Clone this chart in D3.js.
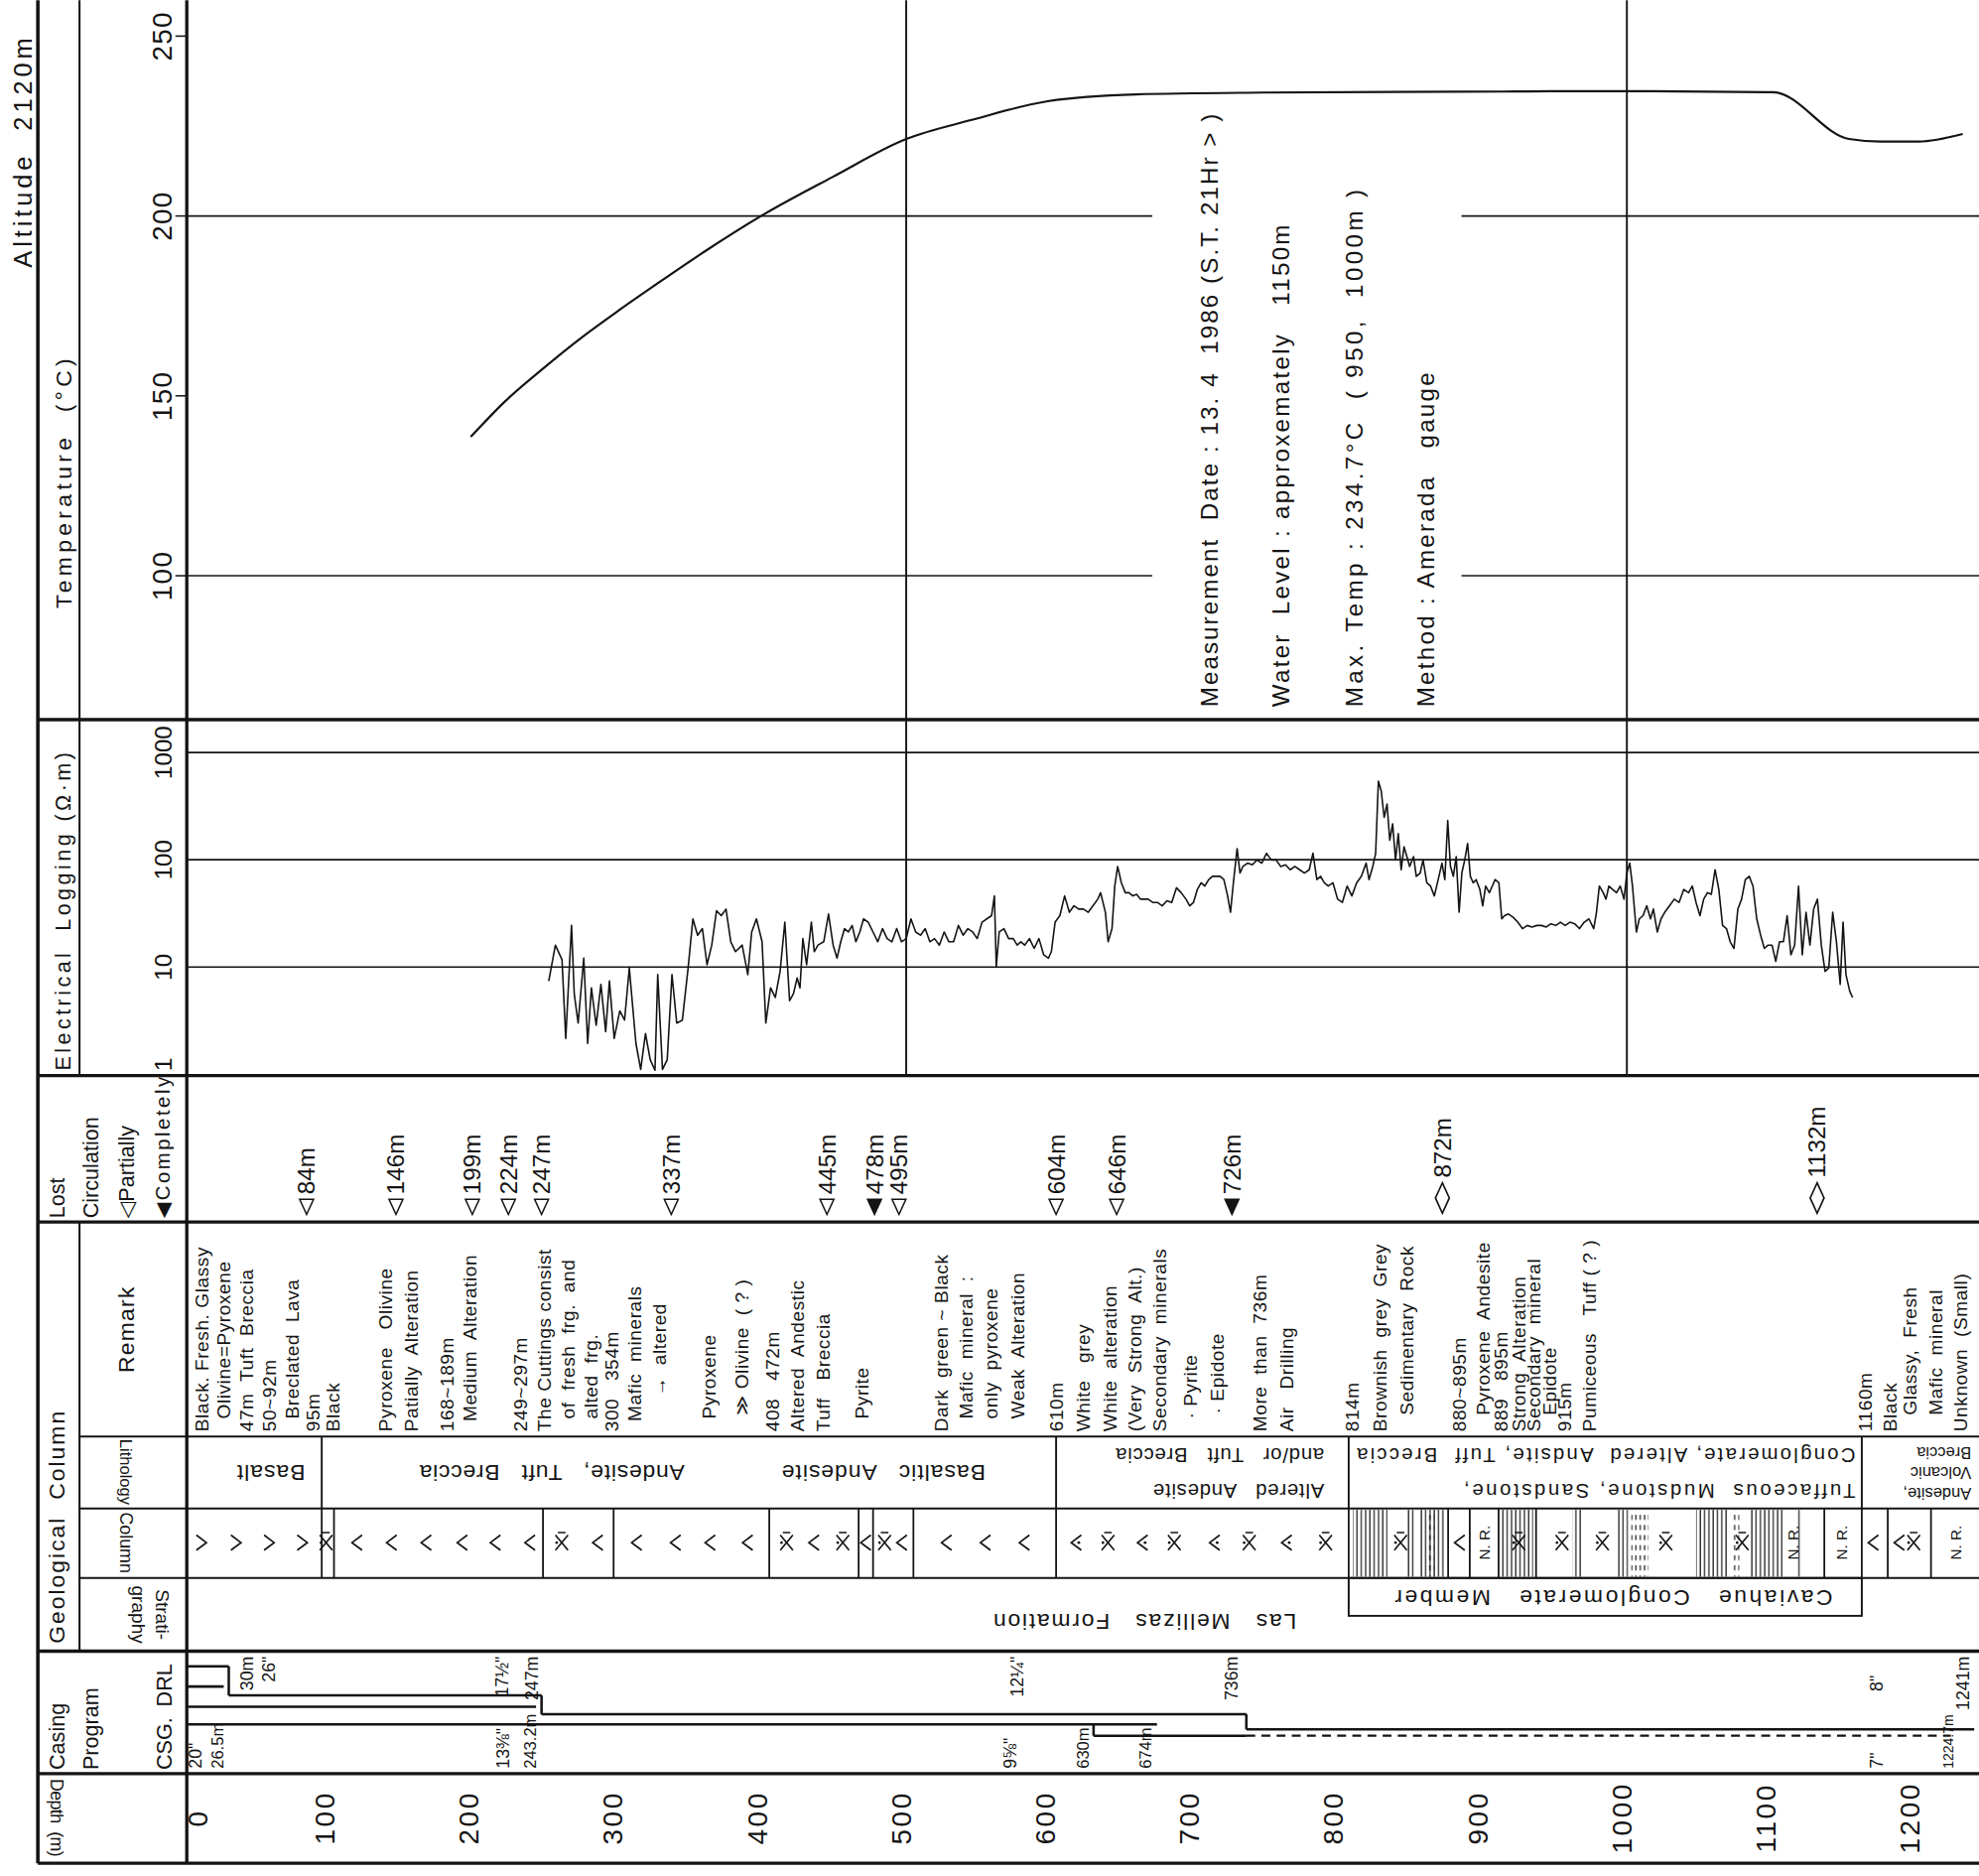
<!DOCTYPE html>
<html>
<head>
<meta charset="utf-8">
<title>Well log – temperature, resistivity and geology</title>
<script src="https://cdn.jsdelivr.net/npm/d3@7/dist/d3.min.js"></script>
<style>
  html, body { margin: 0; padding: 0; background: #fff; }
  svg { display: block; }
  text { font-family: "Liberation Sans", "DejaVu Sans", Arial, sans-serif; fill: #141414; white-space: pre; }
</style>
</head>
<body>
<svg id="chart" width="1994" height="1890" viewBox="0 0 1568 1486"></svg>
<script>
// ---------- data ----------
const depthTicks = [0, 100, 200, 300, 400, 500, 600, 700, 800, 900, 1000, 1100, 1200];
const depthGrid = [500, 1000];
const tempTicks = [100, 150, 200, 250];
const tempGrid = [100, 200];
const resTicks = [1, 10, 100, 1000];

// static temperature profile (depth m, °C)
const tempDepth = [197.9, 221.5, 247.8, 274.1, 300.4, 326.6, 361.6, 401, 449.2, 500, 545.5, 598.1, 659.4, 746.9, 834.5, 922.1, 950, 1000, 1101.6, 1154.1, 1176, 1202.3, 1233];
const tempValue = [138.6, 148.4, 157.5, 166, 173.7, 181, 190.5, 200.4, 210.9, 221.4, 226.7, 231.9, 233.8, 234.3, 234.5, 234.6, 234.7, 234.7, 234.4, 221.4, 220.7, 220.7, 222.8];

// electrical logging (depth m, resistivity ohm-m)
const logDepth = [
  252.0,256.6,261.2,263.8,267.8,269.7,272.4,276.3,279.0,281.6,
  284.9,288.2,291.5,294.1,297.4,301.3,304.6,307.9,310.5,312.5,
  315.8,319.1,322.4,325.7,327.6,330.9,334.2,337.5,340.8,344.7,
  348.7,352.0,355.3,358.6,361.8,365.1,368.4,371.7,375.0,378.3,
  381.6,386.2,390.1,392.8,396.1,400.0,402.6,405.9,409.2,412.5,
  415.8,419.1,421.7,424.3,426.3,428.3,430.9,434.2,436.2,438.8,
  442.8,446.1,449.3,452.0,454.6,457.2,459.9,462.5,465.1,467.8,
  470.4,473.7,477.0,480.3,483.6,486.8,490.1,493.4,496.7,500.0,
  503.3,506.6,509.9,513.2,516.4,519.7,523.0,526.3,529.6,532.9,
  536.2,539.5,542.8,546.1,549.3,552.6,555.9,559.2,561.2,562.5,
  564.5,567.8,571.1,574.3,577.0,579.6,582.2,585.5,588.8,592.1,
  595.4,598.7,600.7,603.3,606.6,609.9,613.2,616.4,619.7,623.0,
  626.3,629.6,632.9,634.9,638.2,640.1,642.8,644.7,646.7,649.3,
  652.0,654.6,657.2,659.9,662.5,665.1,667.8,671.1,674.3,677.6,
  680.9,684.2,687.5,690.8,694.1,696.7,699.3,702.0,704.6,707.2,
  709.9,712.5,715.1,717.8,720.4,723.0,725.0,727.0,729.6,731.6,
  733.6,736.8,740.1,743.4,746.7,750.0,753.3,756.6,759.9,763.2,
  766.4,769.7,773.0,776.3,779.6,782.2,784.9,787.5,790.1,792.8,
  796.1,799.3,802.6,805.9,809.2,812.5,815.8,819.1,821.1,823.7,
  825.7,827.6,829.6,831.6,833.6,835.5,837.5,839.5,841.4,843.4,
  845.4,847.4,849.3,852.0,853.9,856.6,858.6,861.2,863.8,866.4,
  869.1,871.7,873.7,875.7,877.6,879.6,881.6,883.6,885.5,887.5,
  889.5,891.4,893.4,895.4,898.0,900.0,902.0,904.6,906.6,908.6,
  911.2,913.2,915.1,917.8,921.1,924.3,927.6,930.9,934.2,937.5,
  940.8,944.1,947.4,950.7,953.9,957.2,960.5,963.8,967.1,970.4,
  973.7,977.0,978.9,980.9,983.6,985.5,987.5,990.1,992.8,995.4,
  998.0,1000.0,1002.0,1003.9,1006.6,1008.6,1011.2,1013.8,1016.4,1018.4,
  1021.1,1023.7,1026.3,1029.6,1032.9,1036.2,1039.5,1042.8,1045.4,1048.0,
  1050.7,1053.3,1055.9,1058.6,1061.2,1063.8,1066.4,1069.1,1071.7,1074.3,
  1077.0,1079.6,1082.2,1084.9,1087.5,1090.1,1092.8,1095.4,1098.0,1100.7,
  1103.3,1105.9,1108.6,1111.2,1113.8,1116.4,1119.1,1121.7,1124.3,1127.0,
  1129.6,1132.2,1134.9,1137.5,1140.1,1142.8,1145.4,1148.0,1150.0,1152.0,
  1154.6,1156.6];
const logRes = [
  7.4,16,11.7,2.16,24.4,5.6,3.0,12.1,1.94,6.4,
  2.86,6.9,2.5,7.4,2.16,3.9,3.2,9.8,3.9,1.94,
  1.11,2.4,1.37,1.09,8.5,1.11,1.37,8.5,3.0,3.2,
  9.8,28.1,19.8,22.8,10.5,16,33.5,30.1,34.7,17.2,
  13.9,16,8.5,21.2,28.1,17.2,3.0,6.4,5.2,9.1,
  26.2,4.85,5.6,7.9,6.4,18.4,10.5,26.2,13.9,16,
  17.2,31.2,16,12.1,17.2,22.8,21.2,24.4,17.2,21.2,
  28.1,26.2,21.2,17.2,22.8,18.4,17.2,22.8,17.2,18.4,
  28.1,21.2,19.8,22.8,17.2,18.4,16,21.2,17.2,17.2,
  24.4,19.8,22.8,21.2,18.4,26.2,28.1,30.1,46,10.1,
  21.2,22.8,18.4,18.4,16,17.2,16,18.4,14.9,18.4,
  13.0,12.1,13.9,26.2,30.1,46,32.4,37.2,34.7,34.7,
  32.4,37.2,42.9,49.3,32.4,17.2,22.8,56.8,86.5,60.9,
  49.3,49.3,46,47.6,42.9,42.9,42.9,40,40,37.2,
  41.4,40,54.8,49.3,42.9,37.2,40,52.9,60.9,56.8,
  65.3,70.1,70.1,70.1,65.3,46,32.4,60.9,127,75.2,
  86.5,92.9,89.8,99.6,92.9,115,99.6,99.6,86.5,89.8,
  80.7,86.5,80.7,75.2,80.7,115,65.3,70.1,60.9,56.8,
  60.9,42.9,40,56.8,46,60.9,70.1,92.9,65.3,86.5,
  115,539,436,248,330,152,216,99.6,175,80.7,
  132,107,86.5,107,70.1,75.2,99.6,60.9,56.8,46,
  65.3,92.9,65.3,232,86.5,70.1,107,32.4,75.2,99.6,
  142,70.1,60.9,65.3,52.9,37.2,56.8,49.3,56.8,65.3,
  60.9,28.1,30.1,31.2,29.1,26.2,22.8,24.4,23.6,24.4,
  24.4,23.6,25.3,24.4,26.2,24.4,26.2,25.3,22.8,26.2,
  28.1,22.8,32.4,56.8,49.3,42.9,56.8,52.9,49.3,56.8,
  42.9,75.2,92.9,56.8,21.2,28.1,30.1,37.2,28.1,34.7,
  21.2,28.1,32.4,37.2,42.9,40,52.9,49.3,56.8,40,
  30.1,42.9,49.3,47.6,80.7,52.9,24.4,22.8,17.2,14.9,
  34.7,42.9,65.3,70.1,56.8,28.1,19.8,14.9,16,16,
  11.3,17.2,17.2,30.1,13.0,16,56.8,13.0,32.4,16,
  34.7,42.9,16,9.1,9.8,32.4,17.2,6.9,26.2,8.5,
  5.98,5.2];

const measurementNotes = [
  "Measurement  Date : 13. 4  1986 (S.T. 21Hr > )",
  "Water  Level : approxemately   1150m",
  "Max. Temp : 234.7°C  ( 950,  1000m )",
  "Method : Amerada   gauge"
];

// lost circulation
const lossDepth = [84, 146, 199, 224, 247, 337, 445, 478, 495, 604, 646, 726, 872, 1132];
const lossKind = ["partial", "partial", "partial", "partial", "partial", "partial", "partial", "complete", "partial", "partial", "partial", "complete", "diamond", "diamond"];

// remarks: depth where each note sits, note text
const remarkDepth = [11.4, 26.3, 42.0, 57.8, 73.6, 88.4, 102.5, 138.4, 156.7, 181.3, 197.0, 232.0, 248.7, 265.3, 281.1, 296.0, 311.7, 328.4, 363.4, 386.2, 407.2, 424.7, 442.2, 469.4, 524.2, 541.4, 558.8, 577.4, 604.0, 622.6, 641.2, 658.6, 675.8, 697.2, 715.8, 745.1, 763.8, 809.1, 828.9, 847.2, 883.8, 900.5, 912.7, 925.0, 935.6, 946.2, 957.0, 973.7, 1165.5, 1182.4, 1196.1, 1214.4, 1231.2];
const remarkText = [
  "Black. Fresh. Glassy", "Olivine=Pyroxene", "47m  Tuft  Breccia", "50~92m", "Breclated  Lava", "95m", "Black",
  "Pyroxene   Olivine", "Patially  Alteration", "168~189m", "Medium  Alteration",
  "249~297m", "The Cuttings consist", "of  fresh  frg.  and", "alted  frg.", "300   354m", "Mafic  minerals", "→  altered",
  "Pyroxene", "≫ Olivine  ( ? )", "408   472m", "Altered  Andestic", "Tuff   Breccia", "Pyrite",
  "Dark  green ~ Black", "Mafic  mineral  :", "only  pyroxene", "Weak  Alteration",
  "610m", "White   grey", "White  alteration", "(Very  Strong  Alt.)", "Secondary  minerals", "· Pyrite", "· Epidote",
  "More  than  736m", "Air   Drilling",
  "814m", "Brownish  grey  Grey", "Sedimentary  Rock", "880~895m", "Pyroxene  Andesite", "889   895m",
  "Strong  Alteration", "Secondary  mineral", "Epidote", "915m", "Pumiceous   Tuff ( ? )",
  "1160m", "Black", "Glassy,  Fresh", "Mafic  mineral", "Unknown  (Small)"
];

// lithology units
const lithoFrom = [0, 94.5, 604, 807, 1163];
const lithoTo = [94.5, 604, 807, 1163, 1245];
const lithoNames = [
  ["Basalt"],
  ["Andesite,   Tuft   Breccia", "Basaltic   Andesite"],
  ["Altered   Andesite", "and/or   Tuft   Breccia"],
  ["Tuffaceous  Mudstone, Sandstone,", "Conglomerate, Altered  Andsite, Tuff  Breccia"],
  ["Andesite,", "Volcanic", "Breccia"]
];

// column symbols
const colBreaks = [94.5, 103, 248, 297, 405, 467, 477, 505, 604, 807, 876, 891, 911, 937, 1137, 1163, 1181, 1211];
const colSymDepth = [11, 35, 58, 81, 97.5, 119, 143, 167, 192, 215, 239, 261, 286, 313, 340, 364, 390, 417, 436, 456, 472, 485, 497, 528, 555, 582, 618, 640, 664, 686, 714, 738, 764, 791, 843, 884, 901, 925, 955, 983, 1027, 1080, 1115, 1149, 1171, 1189, 1199, 1228];
const colSymKind = [">", ">", ">", ">", "x", "<", "<", "<", "<", "<", "<", "x", "<", "<", "<", "<", "<", "x", "<", "x", "<", "x", "<", "<", "<", "<", "<.", "x", "<.", "x", "<.", "x", "<.", "x", "x", "<", "NR", "x", "x", "x", "x", "x", "NR", "NR", "<", "<", "x", "NR"];
const sedStripeFrom = [810, 847, 856, 912, 962, 993, 1048, 1085, 1118];
const sedStripeTo = [834, 853, 874, 935, 969, 1001, 1070, 1108, 1121];
const sedDashFrom = [862, 1003, 1073];
const sedDashTo = [866, 1015, 1078];

// stratigraphy
const formationName = "Las   Mellizas   Formation";
const memberName = "Caviahue   Conglomerate   Member";
const memberFrom = 807, memberTo = 1163;

// casing program
const drillFrom = [0, 30, 247, 736];
const drillTo = [30, 247, 736, 1241];
const casingTo = [26.5, 243.2, 674];
const linerFrom = 630, linerSlotFrom = 736, linerTo = 1224.7;

// ---------- layout ----------
const B = { left: 30, inner: 63, plot: 148, right: 1568,
  tempBot: 570, elecBot: 852, lossBot: 968, remBot: 1138, lithBot: 1195,
  colBot: 1250, stratBot: 1308, casBot: 1405, depBot: 1476 };
const INK = "#141414";

const svg = d3.select("#chart");
const defs = svg.append("defs");
const g = svg.append("g");

const x = d3.scaleLinear().domain([0, 1200]).range([147, 1517.4]);
const yT = d3.scaleLinear().domain([60, 260]).range([B.tempBot, 0]);
const yE = d3.scaleLog().domain([1, 1000]).range([851, 596]);

function hline(y, x1, x2, w, dash) {
  const l = g.append("line").attr("x1", x1).attr("x2", x2).attr("y1", y).attr("y2", y)
    .attr("stroke", INK).attr("stroke-width", w);
  if (dash) l.attr("stroke-dasharray", dash);
  return l;
}
function vline(xx, y1, y2, w, dash) {
  const l = g.append("line").attr("x1", xx).attr("x2", xx).attr("y1", y1).attr("y2", y2)
    .attr("stroke", INK).attr("stroke-width", w);
  if (dash) l.attr("stroke-dasharray", dash);
  return l;
}
function label(px, py, str, o = {}) {
  const t = g.append("text")
    .attr("transform", `translate(${px},${py}) rotate(${o.rot ?? -90})`)
    .attr("text-anchor", o.anchor || "start")
    .attr("dy", o.dy ?? "0.35em")
    .attr("font-size", o.size || 16)
    .text(str);
  if (o.len) t.attr("textLength", o.len).attr("lengthAdjust", "spacing");
  if (o.spacing) t.attr("letter-spacing", o.spacing);
  return t;
}

// ---------- temperature panel ----------
tempGrid.forEach(v => { hline(yT(v), B.plot, 913, 1.3); hline(yT(v), 1158, B.right, 1.3); });
tempTicks.forEach(v => {
  hline(yT(v), 139, B.plot, 1.2);
  label(128, yT(v), String(v), { anchor: "middle", size: 22, spacing: 1 });
});
depthGrid.forEach(d => vline(x(d), 0, B.elecBot, 1.5));

g.append("path")
  .attr("d", d3.line().x(i => x(tempDepth[i])).y(i => yT(tempValue[i])).curve(d3.curveMonotoneX)(d3.range(tempDepth.length)))
  .attr("fill", "none").attr("stroke", INK).attr("stroke-width", 1.7);

const noteX = [958, 1015, 1073, 1130];
const noteLen = [470, 382, 410, 265];
measurementNotes.forEach((s, i) => label(noteX[i], 560, s, { size: 19, len: noteLen[i] }));

label(50, 482, "Temperature  (°C)", { size: 18, len: 198 });
label(18, 121, "Altitude  2120m", { anchor: "middle", size: 20, len: 182 });

// ---------- electrical logging panel ----------
resTicks.filter(v => v > 1).forEach(v => hline(yE(v), B.plot, B.right, 1.3));
resTicks.forEach(v => label(129, v === 1 ? yE(v) - 8 : yE(v), String(v), { anchor: "middle", size: 19 }));
label(50, 848, "Electrical  Logging (Ω·m)", { size: 17, len: 252 });

g.append("path")
  .attr("d", d3.line().x(i => x(logDepth[i])).y(i => yE(logRes[i]))(d3.range(logDepth.length)))
  .attr("fill", "none").attr("stroke", INK).attr("stroke-width", 1.25).attr("stroke-linejoin", "round");

// ---------- lost circulation ----------
label(45, 965, "Lost", { size: 17 });
label(72, 965, "Circulation", { size: 17 });
label(100, 965, "◁Partially", { size: 17 });
label(129, 965, "◀Completely", { size: 16, len: 112 });

lossDepth.forEach((d, i) => {
  const cx = x(d), k = lossKind[i];
  if (k === "diamond") {
    g.append("path").attr("d", `M${cx},937 L${cx + 5.5},949 L${cx},961 L${cx - 5.5},949 Z`)
      .attr("fill", "none").attr("stroke", INK).attr("stroke-width", 1.3);
    label(cx, 933, `${d}m`, { size: 19 });
  } else {
    g.append("path").attr("d", `M${cx - 5.5},950 L${cx + 5.5},950 L${cx},962 Z`)
      .attr("fill", k === "complete" ? INK : "none").attr("stroke", INK).attr("stroke-width", 1.2);
    label(cx, 946, `${d}m`, { size: 19 });
  }
});

// ---------- remarks ----------
label(100, 1053, "Remark", { anchor: "middle", size: 18, spacing: 1 });
const remarkIndent = [0, 10, 0, 0, 10, 0, 0, 0, 0, 0, 8, 0, 0, 10, 10, 0, 8, 28, 10, 13, 0, 0, 0, 10, 0, 10, 10, 10, 0, 0, 0, 0, 0, 10, 14, 0, 0, 0, 0, 13, 0, 13, 0, 0, 0, 13, 0, 0, 0, 0, 13, 13, 0];
remarkText.forEach((s, i) => label(x(remarkDepth[i]), 1134 - remarkIndent[i], s, { size: 15, spacing: 0.45 }));

// ---------- lithology ----------
label(100, 1166, "Lithology", { rot: 90, anchor: "middle", size: 13, len: 52 });
lithoFrom.slice(1).forEach(d => vline(x(d), B.remBot, B.lithBot, 1.5));
label(x(59), 1167, lithoNames[0][0], { rot: 180, anchor: "middle", size: 18, spacing: 0.8 });
label(x(254), 1167, lithoNames[1][0], { rot: 180, anchor: "middle", size: 18, spacing: 0.6 });
label(x(484), 1167, lithoNames[1][1], { rot: 180, anchor: "middle", size: 18, spacing: 0.8 });
label(x(790), 1181, lithoNames[2][0], { rot: 180, size: 16, spacing: 0.6 });
label(x(790), 1153, lithoNames[2][1], { rot: 180, size: 16, spacing: 0.6 });
label(x(1158.5), 1181, lithoNames[3][0], { rot: 180, size: 16, len: 310 });
label(x(1158.5), 1153, lithoNames[3][1], { rot: 180, size: 16, len: 395 });
label(x(1239), 1183, lithoNames[4][0], { rot: 180, size: 13 });
label(x(1239), 1167, lithoNames[4][1], { rot: 180, size: 13 });
label(x(1239), 1151, lithoNames[4][2], { rot: 180, size: 13 });

// ---------- column ----------
label(100, 1222, "Column", { rot: 90, anchor: "middle", size: 14 });
const stripe = defs.append("pattern").attr("id", "stripe").attr("patternUnits", "userSpaceOnUse")
  .attr("width", 3.4).attr("height", 10);
stripe.append("line").attr("x1", 0.8).attr("x2", 0.8).attr("y1", 0).attr("y2", 10)
  .attr("stroke", INK).attr("stroke-width", 0.95);
const dashes = defs.append("pattern").attr("id", "dashes").attr("patternUnits", "userSpaceOnUse")
  .attr("width", 3.4).attr("height", 8);
dashes.append("line").attr("x1", 0.8).attr("x2", 0.8).attr("y1", 0).attr("y2", 4)
  .attr("stroke", INK).attr("stroke-width", 0.95);

sedStripeFrom.forEach((d, i) => g.append("rect")
  .attr("x", x(d)).attr("width", x(sedStripeTo[i]) - x(d)).attr("y", 1196).attr("height", 53)
  .attr("fill", "url(#stripe)"));
sedDashFrom.forEach((d, i) => g.append("rect")
  .attr("x", x(d)).attr("width", x(sedDashTo[i]) - x(d)).attr("y", 1196).attr("height", 53)
  .attr("fill", "url(#dashes)"));
colBreaks.forEach(d => vline(x(d), B.lithBot, B.colBot, 1.4));

const cy = 1222;
colSymDepth.forEach((d, i) => {
  const cx = x(d), k = colSymKind[i];
  const p = g.append("path").attr("fill", "none").attr("stroke", INK).attr("stroke-width", 1.3);
  if (k === ">") p.attr("d", `M${cx - 4},${cy - 6} L${cx + 4},${cy} L${cx - 4},${cy + 6}`);
  else if (k === "<" || k === "<.") {
    p.attr("d", `M${cx + 4},${cy - 6} L${cx - 4},${cy} L${cx + 4},${cy + 6}`);
    if (k === "<.") g.append("circle").attr("cx", cx + 2).attr("cy", cy).attr("r", 1.1).attr("fill", INK);
  } else if (k === "x") {
    p.attr("d", `M${cx - 5},${cy - 6} L${cx + 5},${cy + 6} M${cx + 5},${cy - 6} L${cx - 5},${cy + 6} M${cx - 3},${cy - 8} L${cx + 3},${cy - 8}`);
    g.append("circle").attr("cx", cx - 4).attr("cy", cy).attr("r", 1).attr("fill", INK);
  } else if (k === "NR") {
    p.remove();
    label(cx, cy, "N. R.", { anchor: "middle", size: 12 });
  }
});

// ---------- stratigraphy ----------
label(129, 1279, "Strati-", { rot: 90, anchor: "middle", size: 15 });
label(110, 1279, "graphy", { rot: 90, anchor: "middle", size: 15 });
label(x(665), 1285, formationName, { rot: 180, anchor: "middle", size: 18, spacing: 1.4 });
g.append("rect").attr("x", x(memberFrom)).attr("y", B.colBot).attr("width", x(memberTo) - x(memberFrom))
  .attr("height", 30).attr("fill", "none").attr("stroke", INK).attr("stroke-width", 1.5);
label(x(990), 1266, memberName, { rot: 180, anchor: "middle", size: 18, spacing: 2 });

label(45, 1302, "Geological  Column", { size: 18, len: 184 });

// ---------- casing program ----------
label(45, 1402, "Casing", { size: 17 });
label(72, 1402, "Program", { size: 17 });
label(130, 1402, "CSG.", { size: 17 });
label(130, 1352, "DRL", { size: 17 });

const drillY = [1320, 1343, 1358, 1370];
drillFrom.forEach((d, i) => {
  hline(drillY[i], Math.max(x(d), B.plot), x(drillTo[i]), 2);
  if (i > 0) vline(x(d), drillY[i - 1], drillY[i], 2);
});
const casingY = [1336, 1352, 1366];
casingTo.forEach((d, i) => hline(casingY[i], B.plot, x(d), 2));
vline(x(linerFrom), casingY[2], 1375, 2);
hline(1375, x(linerFrom), x(linerSlotFrom), 2);
hline(1375, x(linerSlotFrom), x(linerTo), 1.8, "7,5");

// bit sizes and depths (upper), casing sizes and shoes (lower)
label(x(drillTo[0]) + 14, 1312, "30m", { anchor: "end", size: 14 });
label(x(drillTo[0]) + 32, 1312, "26\"", { anchor: "end", size: 14 });
label(x(drillTo[1]) - 31, 1312, "17½\"", { anchor: "end", size: 14 });
label(x(drillTo[1]) - 8, 1312, "247m", { anchor: "end", size: 14 });
label(x(577), 1312, "12¼\"", { anchor: "end", size: 14 });
label(x(drillTo[2]) - 12, 1312, "736m", { anchor: "end", size: 14 });
label(x(1173), 1327, "8\"", { anchor: "end", size: 14 });
label(x(drillTo[3]) - 9, 1312, "1241m", { anchor: "end", size: 14 });

label(x(7), 1401, "20\"", { size: 14 });
label(x(casingTo[0]) - 5, 1401, "26.5m", { size: 13 });
label(x(casingTo[1]) - 26, 1401, "13⅜\"", { size: 14 });
label(x(casingTo[1]) - 5, 1401, "243.2m", { size: 13 });
label(x(572), 1401, "9⅝\"", { size: 14 });
label(x(linerFrom) - 8, 1401, "630m", { size: 13 });
label(x(casingTo[2]) - 9, 1401, "674m", { size: 13 });
label(x(1173), 1401, "7\"", { size: 14 });
label(x(linerTo) - 2, 1401, "1224.7m", { size: 11 });

// ---------- depth axis ----------
label(45, 1440, "Depth  (m)", { rot: 90, anchor: "middle", size: 14, len: 62 });
depthTicks.forEach(d => label(x(d) - 4 + (d === 0 ? 14 : 0), 1440, String(d), { anchor: "middle", size: 22, spacing: 2 }));

// ---------- frame ----------
[B.tempBot, B.elecBot, B.lossBot, B.stratBot, B.casBot, B.depBot].forEach(y => hline(y, B.left, B.right, 2.6));
[B.remBot, B.lithBot, B.colBot].forEach(y => hline(y, B.inner, B.right, 1.6));
vline(B.left, 0, B.depBot, 2.8);
vline(B.plot, 0, B.depBot, 2.6);
vline(B.inner, 0, B.elecBot, 1.6);
vline(B.inner, B.lossBot, B.stratBot, 1.6);
</script>
</body>
</html>
